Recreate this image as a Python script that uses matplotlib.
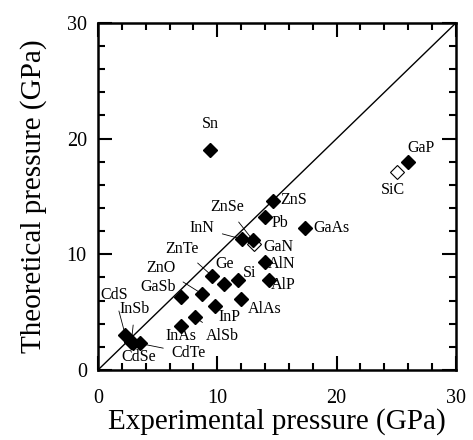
import matplotlib.pyplot as plt
from matplotlib.ticker import MultipleLocator

plt.rcParams['font.family'] = ['Liberation Serif', 'DejaVu Serif']

# filled diamonds: experimental vs theoretical pressure (GPa)
names = ['ZnS', 'Pb', 'GaAs', 'InN', 'ZnSe', 'AlN', 'AlP', 'Si', 'Ge', 'ZnTe',
         'ZnO', 'GaSb', 'AlAs', 'InP', 'AlSb', 'InAs', 'CdS', 'InSb', 'CdSe',
         'CdTe', 'Sn', 'GaP']
exp_p = [14.7, 14.0, 17.35, 12.1, 13.0, 14.0, 14.3, 11.7, 10.6, 9.6,
         8.7, 7.0, 12.0, 9.8, 8.1, 7.0, 2.3, 2.8, 2.9, 3.5, 9.4, 26.0]
theo_p = [14.6, 13.2, 12.3, 11.3, 11.2, 9.35, 7.8, 7.8, 7.4, 8.1,
          6.6, 6.3, 6.1, 5.55, 4.6, 3.8, 3.0, 2.4, 2.3, 2.3, 19.0, 18.0]
# label positions (data units) and whether a leader line is drawn
lab_x = [16.4, 15.25, 19.6, 8.7, 10.8, 15.4, 15.5, 12.75, 10.65, 7.0,
         5.3, 5.05, 14.0, 11.05, 10.4, 7.0, 1.4, 3.1, 3.4, 7.6, 9.4, 27.1]
lab_y = [14.7, 12.7, 12.3, 12.25, 14.1, 9.2, 7.35, 8.35, 9.15, 10.5,
         8.8, 7.15, 5.3, 4.6, 2.9, 2.9, 6.5, 5.3, 1.15, 1.45, 21.3, 19.2]
leader = ['InN', 'ZnSe', 'Ge', 'ZnTe', 'ZnO', 'AlSb', 'CdS', 'InSb', 'CdTe']

# open diamonds
open_names = ['GaN', 'SiC']
open_exp = [13.1, 25.1]
open_theo = [10.9, 17.1]
open_lab_x = [15.1, 24.75]
open_lab_y = [10.65, 15.55]

fig = plt.figure(figsize=(4.73, 4.40), dpi=100)
ax = fig.add_axes([0.207, 0.159, 0.757, 0.789])

ax.plot([0, 30], [0, 30], color='black', lw=1.0, zorder=1)

for i, n in enumerate(names):
    if n in leader:
        ax.annotate(n, xy=(exp_p[i], theo_p[i]), xytext=(lab_x[i], lab_y[i]),
                    ha='center', va='center', fontsize=11.5,
                    arrowprops=dict(arrowstyle='-', lw=0.6, color='black',
                                    shrinkA=4, shrinkB=3))
    else:
        ax.text(lab_x[i], lab_y[i], n, ha='center', va='center', fontsize=11.5)

for i, n in enumerate(open_names):
    ax.text(open_lab_x[i], open_lab_y[i], n, ha='center', va='center', fontsize=11.5)

ax.plot(open_exp, open_theo, 'D', ms=7.5, mfc='white', mec='black', mew=0.8,
        linestyle='none', zorder=3)
ax.plot(exp_p, theo_p, 'D', ms=7.5, color='black', linestyle='none', zorder=4)

ax.set_xlim(0, 30)
ax.set_ylim(0, 30)
ax.xaxis.set_major_locator(MultipleLocator(10))
ax.xaxis.set_minor_locator(MultipleLocator(2))
ax.yaxis.set_major_locator(MultipleLocator(10))
ax.yaxis.set_minor_locator(MultipleLocator(2))
ax.tick_params(which='both', direction='in', top=True, right=True,
               width=1.5, labelsize=14.5)
ax.tick_params(which='major', length=10)
ax.tick_params(axis='x', which='major', pad=14)
ax.tick_params(axis='y', which='major', pad=8)
ax.tick_params(which='minor', length=5)
for s in ax.spines.values():
    s.set_linewidth(1.8)

ax.set_xlabel('Experimental pressure (GPa)', fontsize=21, labelpad=0)
ax.set_ylabel('Theoretical pressure (GPa)', fontsize=21, labelpad=14)

fig.savefig('out.png', dpi=100)
